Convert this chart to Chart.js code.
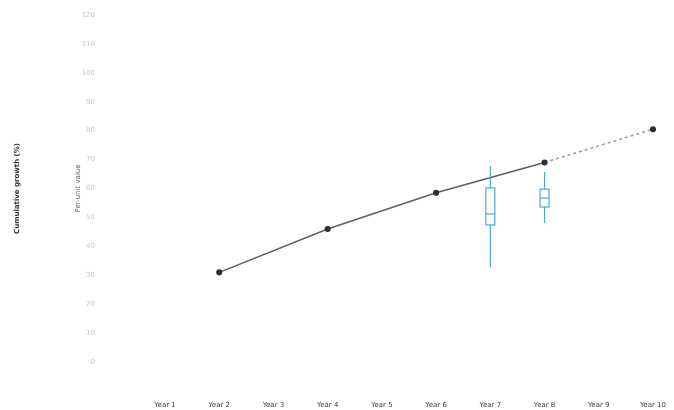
<!DOCTYPE html>
<html>
<head>
<meta charset="utf-8">
<script src="https://cdn.jsdelivr.net/npm/chart.js@4/dist/chart.umd.min.js"></script>
<style>
  html, body { margin: 0; padding: 0; background: #ffffff; }
  #wrap { width: 674px; height: 410px; }
</style>
</head>
<body>
<div id="wrap"><canvas id="c" width="674" height="410"></canvas></div>
<script>
// Categories along the x axis
const years = ['Year 1', 'Year 2', 'Year 3', 'Year 4', 'Year 5', 'Year 6', 'Year 7', 'Year 8', 'Year 9', 'Year 10'];

// Trend line (measured every second year)
const trendValues = [null, 31, null, 46, null, 58.5, null, 69, null, 80.5];

// Spread of outcomes in selected years (box and whisker)
const boxYears   = ['Year 7', 'Year 8'];
const boxMin     = [32.8, 48.1];
const boxQ1      = [47.4, 53.6];
const boxMedian  = [51.2, 56.7];
const boxQ3      = [60.2, 59.8];
const boxMax     = [67.8, 65.7];

// Value axis ticks
const yTicks = [0, 10, 20, 30, 40, 50, 60, 70, 80, 90, 100, 110, 120];

const boxPlugin = {
  id: 'boxes',
  afterDatasetsDraw(chart) {
    const { ctx, scales: { x, y } } = chart;
    ctx.save();
    ctx.strokeStyle = '#4ea6e0';
    ctx.lineWidth = 1.2;
    boxYears.forEach((yr, i) => {
      const cx = x.getPixelForValue(years.indexOf(yr));
      const half = 4.5;
      const pMin = y.getPixelForValue(boxMin[i]);
      const pQ1 = y.getPixelForValue(boxQ1[i]);
      const pMed = y.getPixelForValue(boxMedian[i]);
      const pQ3 = y.getPixelForValue(boxQ3[i]);
      const pMax = y.getPixelForValue(boxMax[i]);
      ctx.beginPath();
      ctx.moveTo(cx, pMax); ctx.lineTo(cx, pQ3);
      ctx.moveTo(cx, pQ1); ctx.lineTo(cx, pMin);
      ctx.stroke();
      ctx.fillStyle = 'rgba(255,255,255,0.85)';
      ctx.fillRect(cx - half, pQ3, half * 2, pQ1 - pQ3);
      ctx.strokeRect(cx - half, pQ3, half * 2, pQ1 - pQ3);
      ctx.beginPath();
      ctx.moveTo(cx - half, pMed); ctx.lineTo(cx + half, pMed);
      ctx.stroke();
    });
    ctx.restore();
  }
};

new Chart(document.getElementById('c'), {
  type: 'line',
  data: {
    labels: years,
    datasets: [{
      data: trendValues,
      spanGaps: true,
      borderColor: '#5f5f5f',
      borderWidth: 1.5,
      pointRadius: 2.3,
      pointBackgroundColor: '#2e2e2e',
      pointBorderColor: '#2e2e2e',
      tension: 0,
      segment: {
        borderDash: ctx => ctx.p0DataIndex >= 7 ? [3, 3] : undefined,
        borderColor: ctx => ctx.p0DataIndex >= 7 ? '#9a9a9a' : undefined
      }
    }]
  },
  options: {
    responsive: false,
    animation: false,
    layout: { padding: { top: 15, right: 21, bottom: 0, left: 0 } },
    plugins: { legend: { display: false }, tooltip: { enabled: false } },
    scales: {
      x: {
        offset: false,
        afterFit: s => { s.height = 48; s.paddingLeft = 0; s.paddingRight = 0; },
        grid: { display: false },
        border: { display: false },
        ticks: {
          padding: 31,
          maxRotation: 0,
          autoSkip: false,
          color: '#3a3a3a',
          font: { family: 'DejaVu Sans', size: 7 }
        }
      },
      y: {
        min: 0,
        max: 120,
        weight: 0,
        afterFit: s => { s.width = 95; s.paddingTop = 0; s.paddingBottom = 0; },
        afterBuildTicks: s => { s.ticks = yTicks.map(v => ({ value: v })); },
        grid: { display: false },
        border: { display: false },
        ticks: {
          padding: 62,
          color: '#c8c8c8',
          font: { family: 'DejaVu Sans', size: 7 }
        },
        title: {
          display: true,
          text: 'Per-unit value',
          color: '#666666',
          padding: { top: 4, bottom: 0 },
          font: { family: 'DejaVu Sans', size: 7 }
        }
      },
      yOuter: {
        position: 'left',
        weight: 5,
        afterFit: s => { s.width = 70; s.paddingTop = 0; s.paddingBottom = 0; },
        grid: { display: false },
        border: { display: false },
        ticks: { display: false },
        title: {
          display: true,
          text: 'Cumulative growth (%)',
          color: '#333333',
          padding: { top: 13, bottom: 0 },
          font: { family: 'DejaVu Sans', size: 7, weight: 'bold' }
        }
      }
    }
  },
  plugins: [boxPlugin]
});
</script>
</body>
</html>
